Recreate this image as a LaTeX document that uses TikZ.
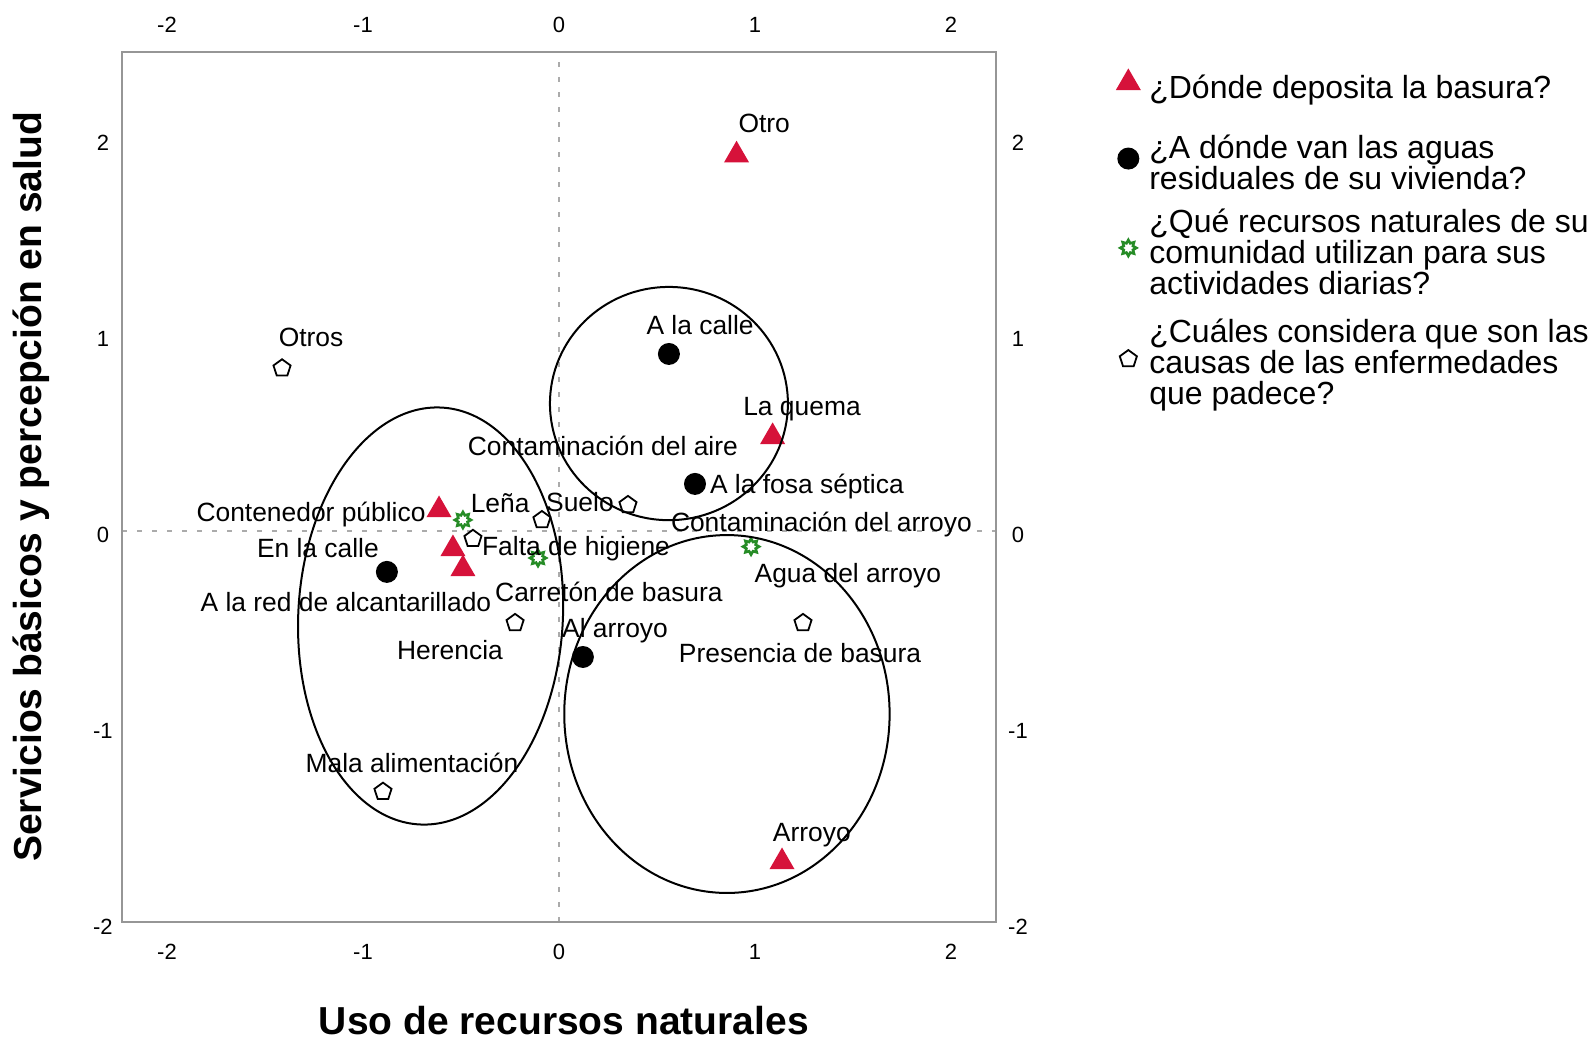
\documentclass[tikz,border=0pt]{standalone}
\usepackage{fontspec}
\setmainfont{Liberation Sans}
\usetikzlibrary{shapes.geometric}
\definecolor{rojo}{RGB}{214, 18, 58}
\definecolor{verde}{RGB}{38, 140, 38}
\definecolor{marco}{RGB}{150, 150, 150}

\begin{document}
\begin{tikzpicture}[x=98pt, y=98pt,
  basura/.style={regular polygon, regular polygon sides=3, fill=rojo, inner sep=0pt, minimum size=14.5pt},
  aguas/.style={circle, fill=black, inner sep=0pt, minimum size=11pt},
  recurso/.style={star, star points=8, star point ratio=1.6, draw=verde, line width=1.3pt, fill=white, inner sep=0pt, minimum size=8pt},
  causa/.style={regular polygon, regular polygon sides=5, draw=black, line width=0.9pt, fill=white, inner sep=0pt, minimum size=9pt},
  etiq/.style={inner sep=0pt, text height=9.3pt, text depth=0pt, font=\fontsize{13.2}{15}\selectfont},
  eje/.style={inner sep=0pt, font=\fontsize{11}{13}\selectfont},
  leyenda/.style={inner sep=0pt, anchor=west, align=left, font=\fontsize{16}{15.5}\selectfont},
  titulo/.style={inner sep=0pt, font=\bfseries\fontsize{19.5}{22}\selectfont},
  cero/.style={color=marco!80, line width=1pt, dash pattern=on 2.5pt off 5pt},
  grupo/.style={line width=1pt, color=black}]
\useasboundingbox (-2.852, -2.612) rectangle (5.286, 2.709);
\draw [cero] (0, -1.995) -- (0, 2.444);
\draw [cero] (-2.23, 0) -- (2.23, 0);
\draw [line width=1.1pt, color=marco] (-2.23, -1.995) rectangle (2.23, 2.444);
% ticks
\node (t1) [eje] at (-2, 2.58) {-2};
\node (t2) [eje] at (-1, 2.58) {-1};
\node (t3) [eje] at (0, 2.58) {0};
\node (t4) [eje] at (1, 2.58) {1};
\node (t5) [eje] at (2, 2.58) {2};
\node (t6) [eje] at (-2, -2.148) {-2};
\node (t7) [eje] at (-1, -2.148) {-1};
\node (t8) [eje] at (0, -2.148) {0};
\node (t9) [eje] at (1, -2.148) {1};
\node (t10) [eje] at (2, -2.148) {2};
\node (t11) [eje] at (-2.327, 1.98) {2};
\node (t12) [eje] at (-2.327, 0.98) {1};
\node (t13) [eje] at (-2.327, -0.02) {0};
\node (t14) [eje] at (-2.327, -1.02) {-1};
\node (t15) [eje] at (-2.327, -2.02) {-2};
\node (t16) [eje] at (2.342, 1.98) {2};
\node (t17) [eje] at (2.342, 0.98) {1};
\node (t18) [eje] at (2.342, -0.02) {0};
\node (t19) [eje] at (2.342, -1.02) {-1};
\node (t20) [eje] at (2.342, -2.02) {-2};
\node (xt) [titulo] at (0.025, -2.50) {Uso de recursos naturales};
\node (yt) [titulo, rotate=90] at (-2.694, 0.225) {Servicios básicos y percepción en salud};
% puntos
\node (b1) [basura] at (0.906, 1.917) {};
\node (b2) [basura] at (1.09, 0.48) {};
\node (b3) [basura] at (-0.612, 0.107) {};
\node (b4) [basura] at (-0.541, -0.092) {};
\node (b5) [basura] at (-0.49, -0.194) {};
\node (b6) [basura] at (1.138, -1.689) {};
\node (a1) [aguas] at (0.561, 0.903) {};
\node (a2) [aguas] at (0.694, 0.24) {};
\node (a3) [aguas] at (-0.878, -0.209) {};
\node (a4) [aguas] at (0.122, -0.643) {};
\node (r1) [recurso] at (-0.49, 0.056) {};
\node (r2) [recurso] at (-0.107, -0.138) {};
\node (r3) [recurso] at (0.98, -0.08) {};
\node (c1) [causa] at (-1.413, 0.83) {};
\node (c2) [causa] at (-0.439, -0.04) {};
\node (c3) [causa] at (-0.087, 0.056) {};
\node (c4) [causa] at (0.352, 0.133) {};
\node (c5) [causa] at (-0.224, -0.469) {};
\node (c6) [causa] at (1.245, -0.469) {};
\node (c7) [causa] at (-0.898, -1.33) {};
% etiquetas
\node (e1) [etiq] at (1.047, 2.078) {Otro};
\node (e2) [etiq] at (1.24, 0.638) {La quema};
\node (e3) [etiq] at (0.72, 1.05) {A la calle};
\node (e4) [etiq] at (0.224, 0.43) {Contaminación del aire};
\node (e5) [etiq] at (1.265, 0.24) {A la fosa séptica};
\node (e6) [etiq] at (1.339, 0.047) {Contaminación del arroyo};
\node (e7) [etiq] at (0.107, 0.148) {Suelo};
\node (e8) [etiq] at (-0.30, 0.143) {Leña};
\node (e9) [etiq] at (0.087, -0.08) {Falta de higiene};
\node (e10) [etiq] at (0.255, -0.31) {Carretón de basura};
\node (e11) [etiq] at (0.286, -0.495) {Al arroyo};
\node (e12) [etiq] at (1.23, -0.622) {Presencia de basura};
\node (e13) [etiq] at (1.474, -0.214) {Agua del arroyo};
\node (e14) [etiq] at (1.29, -1.536) {Arroyo};
\node (e15) [etiq] at (-0.556, -0.607) {Herencia};
\node (e16) [etiq] at (-0.75, -1.184) {Mala alimentación};
\node (e17) [etiq] at (-1.265, 0.99) {Otros};
\node (e18) [etiq] at (-1.265, 0.097) {Contenedor público};
\node (e19) [etiq] at (-1.23, -0.087) {En la calle};
\node (e20) [etiq] at (-1.087, -0.362) {A la red de alcantarillado};
% grupos
\draw [grupo, rotate around={-3:(-0.655, -0.434)}] (-0.655, -0.434) ellipse [x radius=0.675, y radius=1.065];
\draw [grupo] (0.561, 0.65) ellipse [x radius=0.607, y radius=0.595];
\draw [grupo] (0.857, -0.934) ellipse [x radius=0.83, y radius=0.913];
% leyenda
\node (m1) [basura] at (2.905, 2.286) {};
\node (m2) [aguas] at (2.905, 1.90) {};
\node (m3) [recurso] at (2.905, 1.444) {};
\node (m4) [causa] at (2.905, 0.877) {};
\node (l1) [leyenda] at (3.01, 2.25) {¿Dónde deposita la basura?};
\node (l2) [leyenda] at (3.01, 1.88) {¿A dónde van las aguas\\residuales de su vivienda?};
\node (l3) [leyenda] at (3.01, 1.423) {¿Qué recursos naturales de su\\comunidad utilizan para sus\\actividades diarias?};
\node (l4) [leyenda] at (3.01, 0.846) {¿Cuáles considera que son las\\causas de las enfermedades\\que padece?};
\end{tikzpicture}
\end{document}
